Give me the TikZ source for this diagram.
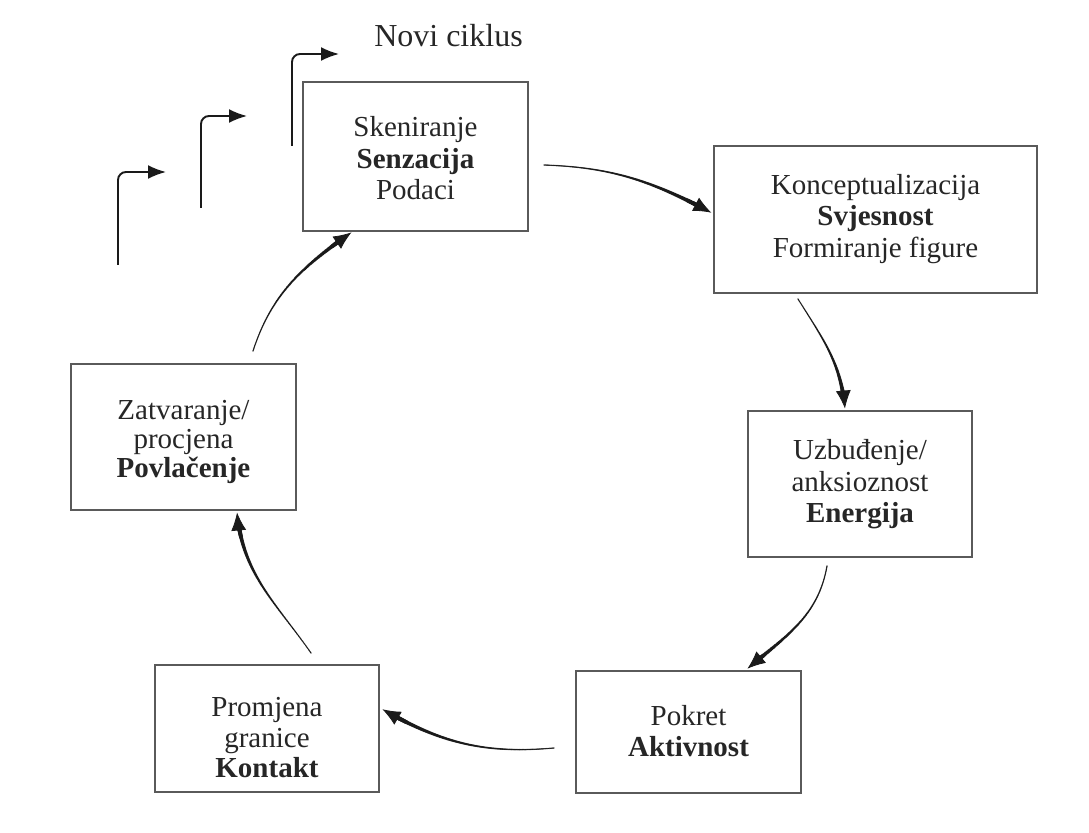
\documentclass[tikz,border=0pt]{standalone}
\usepackage{fontspec}
\setmainfont{Liberation Serif}
\usetikzlibrary{arrows.meta,calc,decorations.markings}
\definecolor{boxcol}{HTML}{5A5A5A}
\definecolor{txtcol}{HTML}{262626}
\definecolor{arrcol}{HTML}{1A1A1A}
\tikzset{
  box/.style={draw=boxcol, line width=1pt, rectangle, inner sep=0pt},
  boxtext/.style={text=txtcol, align=center, inner sep=0pt,
    font=\fontsize{14.5}{15.75}\selectfont},
  bent/.style={draw=arrcol, line width=0.95pt, rounded corners=4pt,
    -{Latex[length=9pt,width=7pt]}},
  taper/.style={decorate, decoration={markings,
    mark=between positions 0 and -5pt step 0.35pt with {
      \pgfmathsetmacro\tr{0.35+0.9*((\pgfkeysvalueof{/pgf/decoration/mark info/distance from start})/(\pgfdecoratedpathlength))^2}
      \fill[arrcol] (0,0) circle[radius=\tr pt];
    },
    mark=at position 1 with {\arrow[arrcol]{Latex[length=9pt,width=7.5pt]}}
  }}
}
\begin{document}
\begin{tikzpicture}[x=0.5pt, y=0.5pt]
\useasboundingbox (0,0) rectangle (1089,832);

% boxes
\node[box, minimum width=112.5pt, minimum height=74.5pt] (b1) at (415.5,675.5) {};
\node[box, minimum width=161.5pt, minimum height=73.5pt] (b2) at (875.5,612.5) {};
\node[box, minimum width=112pt, minimum height=73pt] (b3) at (860,348) {};
\node[box, minimum width=112.5pt, minimum height=61pt] (b4) at (688.5,100) {};
\node[box, minimum width=112pt, minimum height=63.5pt] (b5) at (267,103.5) {};
\node[box, minimum width=112.5pt, minimum height=73pt] (b6) at (183.5,395) {};

% texts
\node[boxtext] (t1) at (415.5,673.5) {Skeniranje\\\textbf{Senzacija}\\Podaci};
\node[boxtext] (t2) at (875.5,613) {Konceptualizacija\\\textbf{Svjesnost}\\Formiranje figure};
\node[boxtext] (t3) at (860,347.5) {Uzbuđenje/\\anksioznost\\\textbf{Energija}};
\node[boxtext] (t4) at (688.5,101) {Pokret\\\textbf{Aktivnost}};
\node[boxtext, font=\fontsize{14.5}{15.25}\selectfont] (t5) at (267,94) {Promjena\\granice\\\textbf{Kontakt}};
\node[boxtext, font=\fontsize{14.5}{14.5}\selectfont] (t6) at (183.5,390.5) {Zatvaranje/\\procjena\\\textbf{Povlačenje}};
\node[text=txtcol, anchor=base, inner sep=0pt, font=\fontsize{16}{18}\selectfont] (nc) at (448.5,785) {Novi ciklus};

% new cycle bent arrows
\coordinate (a0) at (118,567); \coordinate (a1) at (166,660);
\coordinate (c0) at (201,624); \coordinate (c1) at (247,716);
\coordinate (d0) at (292,686); \coordinate (d1) at (339,778);
\draw[bent] (a0) |- (a1);
\draw[bent] (c0) |- (c1);
\draw[bent] (d0) |- (d1);

% cycle arrows
\path[taper] ($(b1.east)+(15,-8.5)$) to[out=-2, in=152] ($(b2.west)+(-1,6.5)$);
\path[taper] ($(b2.south)+(-77.5,-5)$) to[out=-58, in=95] ($(b3.north)+(-15,1)$);
\path[taper] ($(b3.south)+(-33,-8)$) to[out=-100, in=40] ($(b4.north)+(58.5,1)$);
\path[taper] ($(b4.west)+(-21,-16)$) to[out=185, in=-30] ($(b5.east)+(2,19.5)$);
\path[taper] ($(b5.north)+(44,11)$) to[out=125, in=-85] ($(b6.south)+(53.5,-1)$);
\path[taper] ($(b6.north)+(69.5,12)$) to[out=72, in=215] ($(b1.south)+(-63.5,0)$);
\end{tikzpicture}
\end{document}
